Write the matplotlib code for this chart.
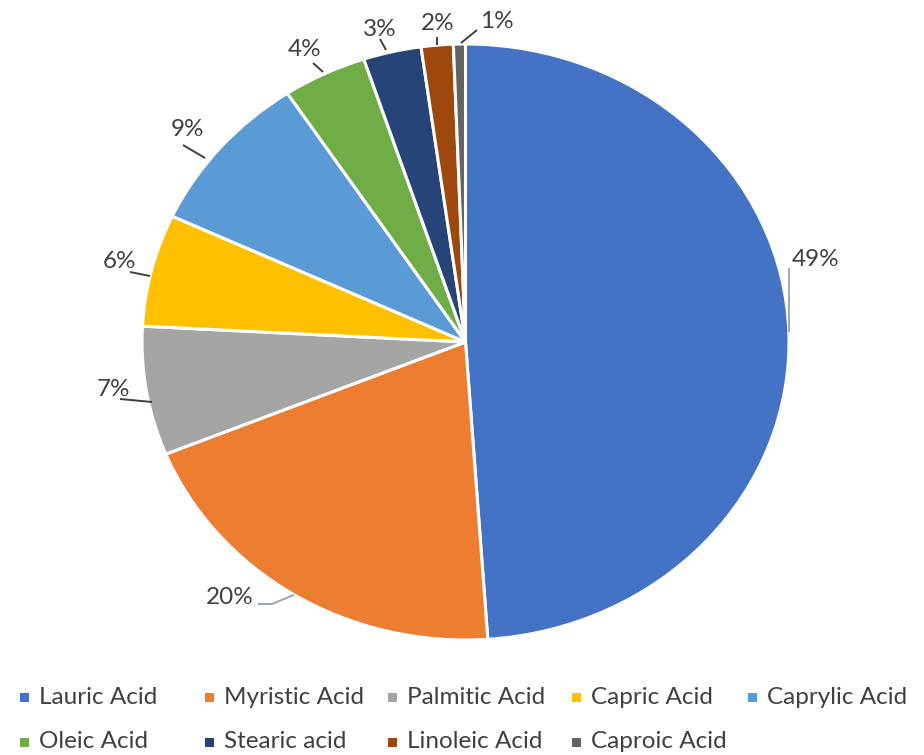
import math
import matplotlib
matplotlib.use("Agg")
import matplotlib.pyplot as plt
from matplotlib.patches import Rectangle

categories = ["Lauric Acid", "Myristic Acid", "Palmitic Acid", "Capric Acid",
              "Caprylic Acid", "Oleic Acid", "Stearic acid", "Linoleic Acid",
              "Caproic Acid"]
values = [49.0, 20.0, 7.0, 6.1, 8.8, 4.2, 2.9, 1.6, 0.6]
colors = ["#4472C4", "#ED7D31", "#A5A5A5", "#FFC000", "#5B9BD5",
          "#70AD47", "#264478", "#9E480E", "#636363"]

plt.rcParams['font.family'] = ['Lato', 'DejaVu Sans']

W, H = 924, 755
fig = plt.figure(figsize=(W / 100, H / 100), dpi=100)
fig.patch.set_facecolor("white")

# pie occupies an ellipse: x 142..789, y 44..640 (pixels)
ax = fig.add_axes([142 / W, (H - 640) / H, 647 / W, 596 / H])
wedges, _ = ax.pie(values, colors=colors, startangle=90, counterclock=False,
                   wedgeprops=dict(edgecolor="white", linewidth=2.2))
ax.set_aspect("auto")
ax.set_xlim(-1, 1)
ax.set_ylim(-1, 1)
ax.axis("off")


def px(x, y):
    return ((x - 465.5) / 323.5, (342 - y) / 298.0)


total = sum(values)
pct_labels = [f"{int(math.floor(v / total * 100 + 0.5))}%" for v in values]

# label layout (pixel positions of text centre) and leader paths
label_text_pos = [(816, 259), (230, 598), (113, 389), (119, 261), (187, 130),
                  (305, 50), (380, 29), (438, 24), (497, 22)]
# None -> start at the wedge's mid-angle edge point
leader_paths = [[None, "vert", (789, 268)],
                [None, (272, 604), (258, 604)],
                [(152, 402), (120, 399)],
                [(150, 276), (130, 272)],
                [(205, 158), (183, 145)],
                [(323, 72), (313, 63)],
                [(386, 50), (380, 39)],
                [(437, 45), (437, 37)],
                [(461, 43), (477, 30)]]
leader_colors = ["#A6A6A6", "#9AA6B2", "#404040", "#404040", "#404040",
                 "#404040", "#404040", "#404040", "#404040"]

for w, lab, tp, path, lc in zip(wedges, pct_labels, label_text_pos,
                                leader_paths, leader_colors):
    mid = math.radians((w.theta1 + w.theta2) / 2)
    sx, sy = math.cos(mid), math.sin(mid)
    pts = []
    for p in path:
        if p is None:
            pts.append((sx, sy))
        elif p == "vert":
            continue
        else:
            pts.append(px(*p))
    if "vert" in path:
        pts = [(sx, sy), (sx, pts[-1][1])]
    xs = [p[0] for p in pts]
    ys = [p[1] for p in pts]
    ax.plot(xs, ys, color=lc, lw=1.4, clip_on=False, solid_capstyle="butt")
    tx, ty = px(*tp)
    ax.text(tx, ty, lab, ha="center", va="center", fontsize=17.5,
            color="#404040", clip_on=False)

# legend (Excel-style grid, 5 columns x 2 rows)
col_x = [20, 205, 388, 572, 748]
row_y = [697, 742]
for i, (cat, col) in enumerate(zip(categories, colors)):
    r, c = divmod(i, 5)
    x0 = col_x[c]
    y0 = row_y[r]
    fig.add_artist(Rectangle(((x0) / W, (H - y0 - 4.5) / H), 9 / W, 9 / H,
                             transform=fig.transFigure, facecolor=col,
                             edgecolor="none"))
    fig.text((x0 + 19) / W, (H - y0) / H, cat, ha="left", va="center",
             fontsize=17.5, color="#404040")

fig.savefig("out.png", dpi=100, facecolor="white")
